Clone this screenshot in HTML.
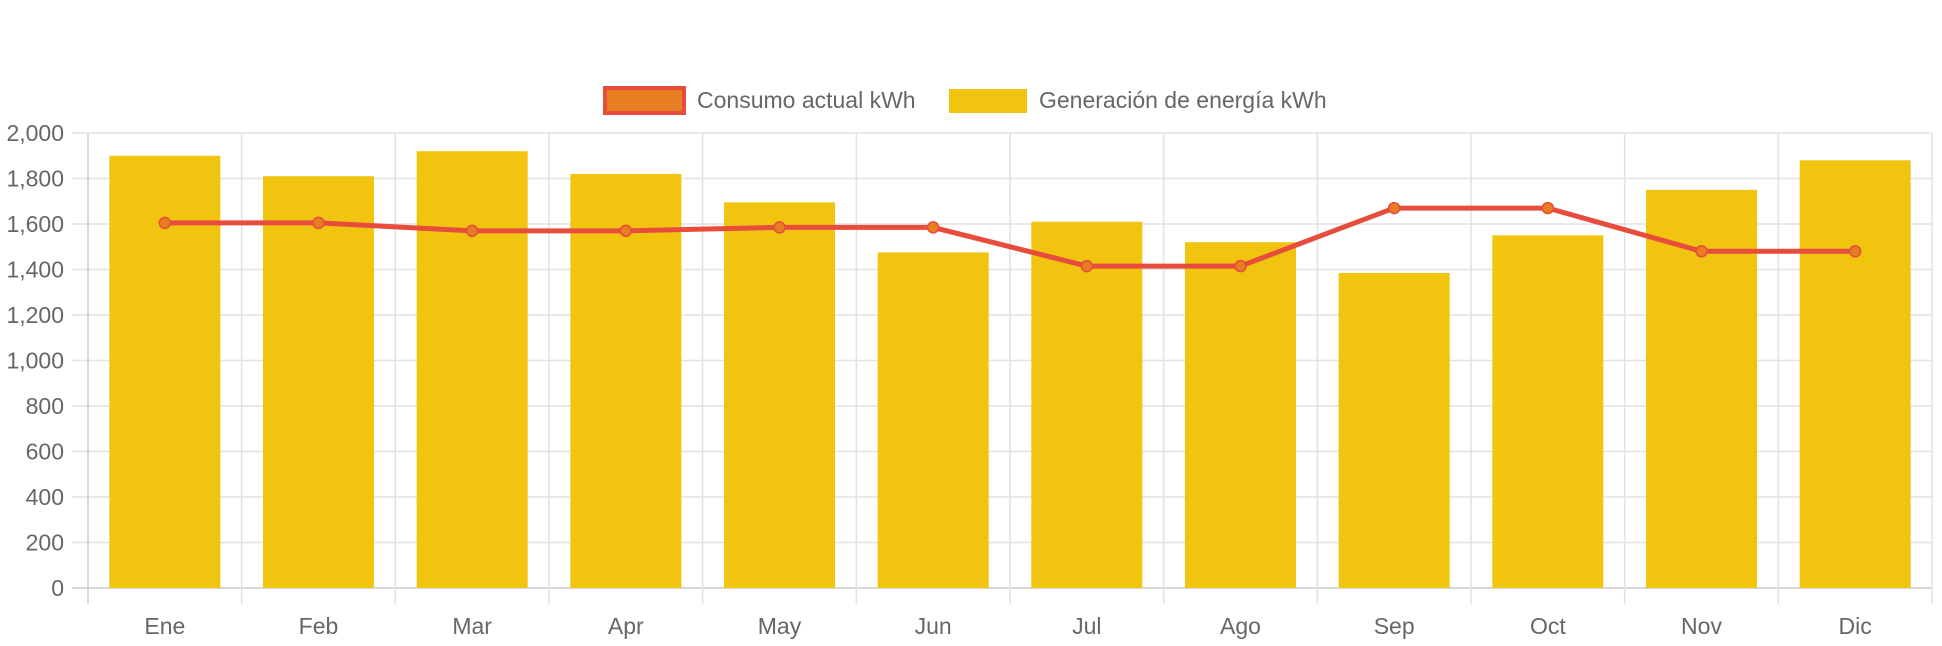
<!DOCTYPE html>
<html><head><meta charset="utf-8"><style>
body{margin:0;background:#fff;font-family:"Liberation Sans",sans-serif;}
svg{display:block}
text{font-family:"Liberation Sans",sans-serif;fill:#666;font-size:23px}
</style></head><body>
<svg id="c" width="1942" height="646">
<g>
<g>
<rect x="605" y="88" width="79" height="25" fill="#e67e22" stroke="#e74c3c" stroke-width="4"/>
<text x="697" y="108">Consumo actual kWh</text></g>
<g>
<rect x="949" y="89" width="78" height="24" fill="#f1c40f"/>
<text x="1039" y="108">Generación de energía kWh</text></g>
</g>
</svg>
<script>
const categories=["Ene","Feb","Mar","Apr","May","Jun","Jul","Ago","Sep","Oct","Nov","Dic"];
const generacion=[1900,1810,1920,1820,1695,1475,1610,1520,1385,1550,1750,1880];
const consumo=[1605,1605,1570,1570,1585,1585,1415,1415,1670,1670,1480,1480];
const yTicks=[0,200,400,600,800,1000,1200,1400,1600,1800,2000];
const yTickLabels=["0","200","400","600","800","1,000","1,200","1,400","1,600","1,800","2,000"];
const NS="http://www.w3.org/2000/svg",svg=document.getElementById('c');
const L=88,R=1932,T=133,B=588,yMax=2000;
const bw=(R-L)/categories.length;
const y=v=>B-(v/yMax)*(B-T);
const x=i=>L+bw*(i+0.5);
function mk(t,a,p){const e=document.createElementNS(NS,t);for(const k in a)e.setAttribute(k,a[k]);(p||svg).appendChild(e);return e;}
const grid=mk('g',{});


yTicks.forEach((v,i)=>{
  mk('line',{x1:L-16,x2:R,y1:y(v),y2:y(v),stroke:i==0?'#ccc':'#e2e2e2','stroke-width':1.5},grid);
  const t=mk('text',{x:L-24,y:y(v)+8,'text-anchor':'end'});
  
  
  t.textContent=yTickLabels[i];
});
for(let i=0;i<=categories.length;i++){
  mk('line',{x1:L+bw*i,x2:L+bw*i,y1:T,y2:B+16,stroke:i==0?'#ccc':'#e2e2e2','stroke-width':1.5},grid);
}
categories.forEach((c,i)=>{
  const r=mk('rect',{x:x(i)-55.5,y:y(generacion[i]),width:111,height:B-y(generacion[i]),fill:'#f1c40f'});
  
  
  const t=mk('text',{x:x(i),y:634,'text-anchor':'middle'});
  
  
  t.textContent=c;
});
const ln=mk('polyline',{points:consumo.map((v,i)=>x(i)+','+y(v)).join(' '),fill:'none',stroke:'#e74c3c','stroke-width':5});


consumo.forEach((v,i)=>{
  const p=mk('circle',{cx:x(i),cy:y(v),r:5.5,fill:'#e67e22',stroke:'#e74c3c','stroke-width':1.5});
  
  
});
</script>
</body></html>
